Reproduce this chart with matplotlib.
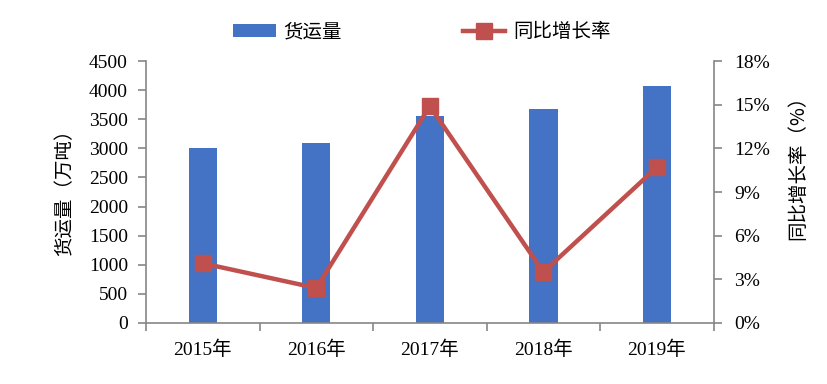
import matplotlib.pyplot as plt
from matplotlib.ticker import FuncFormatter
import numpy as np

plt.rcParams['font.family'] = ['Liberation Serif', 'Noto Sans CJK SC']

years = ['2015年', '2016年', '2017年', '2018年', '2019年']
volume = [3010, 3095, 3560, 3680, 4075]      # 货运量 (万吨)
growth = [4.1, 2.4, 14.9, 3.5, 10.7]         # 同比增长率 (%)

bar_color = '#4472C4'
line_color = '#C0504D'
spine_color = '#868686'
cjk = ['Noto Sans CJK SC', 'DejaVu Sans']

fig = plt.figure(figsize=(8.27, 3.84), dpi=100)
ax = fig.add_axes([0.1765, 0.159, 0.6865, 0.682])
x = np.arange(len(years))

b = ax.bar(x, volume, width=0.25, color=bar_color, label='货运量', zorder=2)
ax.set_xlim(-0.5, len(years) - 0.5)
ax.set_ylim(0, 4500)
ax.set_yticks(np.arange(0, 4501, 500))
ax.set_xticks(x)
ax.set_xticklabels(years)
ax.set_xticks(np.arange(-0.5, len(years), 1), minor=True)
ax.tick_params(axis='x', which='major', length=0, pad=13, labelsize=14)
ax.tick_params(axis='x', which='minor', length=6, width=1.2, color=spine_color, direction='out')
ax.tick_params(axis='y', length=6, width=1.2, color=spine_color, labelsize=14, pad=7)
ax.set_ylabel('货运量（万吨）', fontsize=14, family=cjk)
ax.yaxis.set_label_coords(-0.125, 0.515)

ax2 = ax.twinx()
l, = ax2.plot(x, growth, color=line_color, lw=3.2, marker='s', markersize=12,
              label='同比增长率', zorder=3)
ax2.set_ylim(0, 18)
ax2.set_yticks(np.arange(0, 19, 3))
ax2.yaxis.set_major_formatter(FuncFormatter(lambda v, p: f'{int(v)}%'))
ax2.tick_params(axis='y', length=6, width=1.2, color=spine_color, labelsize=14, pad=9)
ax2.set_ylabel('同比增长率（%）', fontsize=14, family=cjk, rotation=90)
ax2.yaxis.set_label_coords(1.13, 0.61)

for a in (ax, ax2):
    a.spines['top'].set_visible(False)
    for s in ('left', 'right', 'bottom'):
        a.spines[s].set_color(spine_color)
        a.spines[s].set_linewidth(1.2)
ax.spines['right'].set_visible(False)
ax2.spines['left'].set_visible(False)
ax2.spines['bottom'].set_visible(False)

fig.legend([b, l], ['货运量', '同比增长率'], loc='upper center', bbox_to_anchor=(0.51, 0.99),
           ncol=2, frameon=False, prop={'family': cjk, 'size': 14},
           handlelength=2.2, columnspacing=6.2, handletextpad=0.4)

fig.savefig('out.png', dpi=100)
